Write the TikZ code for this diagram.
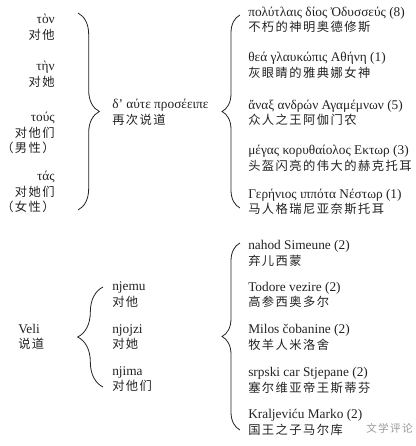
\documentclass[tikz,border=0pt]{standalone}
\usepackage{fontspec}
\setmainfont{Liberation Serif}
\newfontfamily\cjk{Noto Sans CJK SC}[LetterSpace=12]
\usetikzlibrary{decorations.pathreplacing}
\definecolor{ink}{HTML}{222222}
\definecolor{mark}{HTML}{9A9A9A}
\newcommand{\zh}[1]{{\cjk\fontsize{9.2}{11.6}\selectfont #1}}

\tikzset{
  lbl/.style={font=\fontsize{10}{11.6}\selectfont, text=ink, inner sep=0pt, align=left, anchor=west},
  lblr/.style={lbl, align=right, anchor=east},
  curly/.style={draw=ink, line width=0.6pt, decorate, decoration={brace, amplitude=#1, aspect=0.5}}
}

\begin{document}
\begin{tikzpicture}[x=0.75pt,y=-0.75pt]
\useasboundingbox (0,0) rectangle (416,446);

% Homeric formulas
\node[lblr] (ton)  at (55,27.5) {τὸν\\\zh{对他}};
\node[lblr] (tin)  at (55,74.5) {τὴν\\\zh{对她}};
\node[lblr] (tous) at (55,133)  {τούς\\\zh{对他们}\\\zh{（男性）}};
\node[lblr] (tas)  at (55,192)  {τάς\\\zh{对她们}\\\zh{（女性）}};

\coordinate (b1t) at (78,13);
\coordinate (b1b) at (78,210);
\draw[curly=16pt] (b1t) -- (b1b);

\node[lbl] (say) at (112,112.5) {δ' αύτε προσέειπε\\\zh{再次说道}};

\coordinate (b2t) at (240,15);
\coordinate (b2b) at (240,208);
\draw[curly=13.5pt] (b2b) -- (b2t);

\node[lbl] (od) at (248,20)    {πολύτλαις δίος Ὀδυσσεύς (8)\\\zh{不朽的神明奥德修斯}};
\node[lbl] (at) at (248,65.5)  {θεά γλαυκώπις Αθήνη (1)\\\zh{灰眼睛的雅典娜女神}};
\node[lbl] (ag) at (248,113)   {ἄναξ ανδρών Αγαμέμνων (5)\\\zh{众人之王阿伽门农}};
\node[lbl] (he) at (248,158.5) {μέγας κορυθαίολος Εκτωρ (3)\\\zh{头盔闪亮的伟大的赫克托耳}};
\node[lbl] (ne) at (248,202)   {Γερήνιος ιππότα Νέστωρ (1)\\\zh{马人格瑞尼亚奈斯托耳}};

% Serbian formulas
\node[lbl] (veli) at (18,337) {Veli\\\zh{说道}};

\coordinate (b3t) at (103,287);
\coordinate (b3b) at (103,387);
\draw[curly=19pt] (b3b) -- (b3t);

\node[lbl] (njemu)  at (112,294.5) {njemu\\\zh{对他}};
\node[lbl] (njojzi) at (112,337)   {njojzi\\\zh{对她}};
\node[lbl] (njima)  at (112,379)   {njima\\\zh{对他们}};

\coordinate (b4t) at (240,243);
\coordinate (b4b) at (240,430);
\draw[curly=13.5pt] (b4b) -- (b4t);

\node[lbl] (sim) at (248,253.5) {nahod Simeune (2)\\\zh{弃儿西蒙}};
\node[lbl] (tod) at (248,295)   {Todore vezire (2)\\\zh{高参西奥多尔}};
\node[lbl] (mil) at (248,337.5) {Milos čobanine (2)\\\zh{牧羊人米洛舍}};
\node[lbl] (stj) at (248,380.5) {srpski car Stjepane (2)\\\zh{塞尔维亚帝王斯蒂芬}};
\node[lbl] (mar) at (248,422.5) {Kraljeviću Marko (2)\\\zh{国王之子马尔库}};

\node[lbl, text=mark] (wm) at (366,428) {\cjk\fontsize{8}{9}\selectfont 文学评论};
\end{tikzpicture}
\end{document}
